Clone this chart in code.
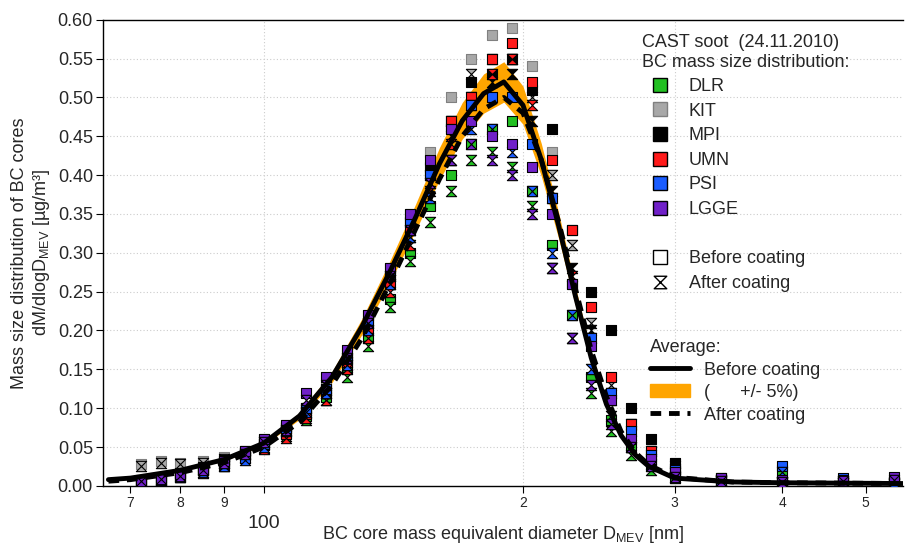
import numpy as np, pandas as pd, seaborn as sns
import matplotlib
matplotlib.use("Agg")
import matplotlib.pyplot as plt
from matplotlib.path import Path
from matplotlib.lines import Line2D
from matplotlib.patches import Patch

D = [72,76,80,85,90,95,100,106,112,118,125,132,140,148,156,165,174,184,194,205,216,228,240,253,267,282,300,340,400,470,540]
instruments = ["DLR","KIT","MPI","UMN","PSI","LGGE"]
colors = {"DLR":"#22c022","KIT":"#a8a8a8","MPI":"#000000","UMN":"#ff1a1a","PSI":"#1a5cff","LGGE":"#7020c8"}
before = {
"DLR":[.004,.008,.014,.020,.030,.040,.052,.068,.090,.115,.150,.19,.24,.30,.36,.40,.44,.46,.47,.38,.31,.22,.14,.085,.05,.025,.012,.006,.02,.005,.004],
"KIT":[.028,.032,.030,.032,.037,.045,.060,.078,.10,.13,.17,.22,.28,.35,.43,.50,.55,.58,.59,.54,.43,.33,.23,.14,.08,.045,.03,.01,.006,.006,.005],
"MPI":[.006,.010,.016,.024,.033,.045,.058,.076,.10,.125,.165,.21,.27,.34,.41,.47,.52,.53,.55,.51,.46,.33,.25,.20,.10,.06,.03,.01,.006,.005,.004],
"UMN":[.005,.009,.015,.020,.028,.040,.053,.067,.093,.12,.16,.20,.26,.33,.40,.47,.50,.55,.57,.52,.42,.33,.23,.14,.08,.045,.02,.008,.005,.004,.004],
"PSI":[.005,.008,.013,.020,.028,.036,.054,.075,.10,.125,.165,.21,.27,.34,.40,.46,.49,.50,.50,.44,.37,.26,.19,.12,.07,.04,.02,.008,.026,.01,.006],
"LGGE":[.007,.010,.015,.022,.032,.045,.060,.078,.12,.14,.175,.22,.28,.35,.42,.46,.47,.45,.44,.41,.35,.26,.18,.11,.06,.035,.018,.01,.007,.008,.012],
}
after = {
"DLR":[.003,.007,.012,.018,.027,.037,.049,.064,.085,.11,.14,.18,.23,.29,.34,.38,.42,.43,.41,.36,.28,.19,.12,.07,.04,.02,.010,.005,.004,.004,.003],
"KIT":[.026,.030,.028,.030,.034,.042,.056,.072,.095,.12,.16,.21,.27,.33,.40,.47,.53,.55,.55,.50,.40,.31,.21,.13,.07,.04,.025,.008,.005,.005,.004],
"MPI":[.005,.009,.014,.022,.030,.041,.054,.071,.094,.12,.155,.20,.26,.32,.39,.45,.50,.52,.53,.47,.38,.28,.20,.12,.08,.045,.022,.008,.005,.004,.004],
"UMN":[.004,.008,.013,.017,.025,.036,.048,.062,.087,.11,.15,.19,.25,.31,.38,.44,.49,.53,.55,.49,.37,.27,.19,.11,.065,.035,.016,.006,.004,.004,.003],
"PSI":[.004,.007,.011,.018,.026,.033,.050,.070,.095,.12,.155,.20,.26,.32,.37,.42,.46,.46,.43,.38,.30,.22,.15,.09,.05,.028,.012,.006,.018,.006,.005],
"LGGE":[.006,.009,.013,.020,.029,.041,.056,.072,.11,.13,.165,.21,.27,.33,.39,.42,.44,.42,.40,.35,.28,.19,.13,.08,.05,.025,.012,.006,.005,.006,.008],
}
Davg = [66,70,80,90,100,110,120,130,140,150,160,170,180,190,200,210,220,230,240,250,260,270,280,300,350,400,552]
avg_before = [.008,.010,.020,.034,.055,.09,.14,.205,.275,.345,.415,.47,.505,.52,.49,.42,.335,.245,.165,.105,.065,.04,.025,.010,.005,.004,.003]
avg_after = [.006,.008,.017,.030,.050,.082,.13,.19,.26,.33,.395,.45,.485,.50,.48,.42,.34,.255,.175,.115,.07,.043,.027,.011,.005,.004,.003]

sns.set_style("white")
plt.rcParams['font.family'] = ['Liberation Sans', 'DejaVu Sans']
plt.rcParams['mathtext.default'] = 'regular'
hour = Path([(-1,1),(1,1),(-1,-1),(1,-1),(-1,1)],[1,2,2,2,79])

fig = plt.figure(figsize=(9.09,5.49), dpi=100)
ax = fig.add_axes([0.113,0.115,0.88,0.849])
ab = np.array(avg_before)
ax.fill_between(Davg, ab*0.95, ab*1.05, color="#ffa500", lw=0, zorder=1)
for ins in instruments:
    ec = "#808080" if ins=="KIT" else "black"
    sns.scatterplot(x=D, y=before[ins], ax=ax, marker="s", s=55, color=colors[ins], edgecolor=ec, linewidth=0.8, zorder=3)
    sns.scatterplot(x=D, y=after[ins], ax=ax, marker=hour, s=55, color=colors[ins], edgecolor="black", linewidth=0.8, zorder=3)
sns.lineplot(x=Davg, y=avg_before, ax=ax, color="black", lw=3.5, zorder=4)
sns.lineplot(x=Davg, y=avg_after, ax=ax, color="black", lw=3.5, ls=(0,(2.2,1.6)), zorder=4)

ax.set_xscale("log")
ax.set_xlim(65, 552)
ax.set_ylim(0, 0.6)
ax.set_yticks(np.arange(0,0.601,0.05))
ax.set_yticklabels([f"{v:.2f}" for v in np.arange(0,0.601,0.05)], fontsize=13)
ax.xaxis.set_minor_locator(matplotlib.ticker.NullLocator())
xt = [70,80,90,100,200,300,400,500]
ax.set_xticks(xt)
ax.set_xticklabels(['7','8','9','\n100','2','3','4','5'], fontsize=10)
ax.get_xticklabels()[3].set_fontsize(14)
ax.tick_params(axis='both', direction='out', length=5, color='black', left=True, bottom=True, pad=2)
for v in np.arange(0.05,0.6,0.05):
    ax.axhline(v, color="#cccccc", ls=(0,(1,2)), lw=0.8, zorder=0)
for v in [100,200,300]:
    ax.axvline(v, color="#cccccc", ls=(0,(1,2)), lw=0.8, zorder=0)
for s in ["left","bottom","top"]:
    ax.spines[s].set_color("black"); ax.spines[s].set_linewidth(1)
ax.spines["right"].set_visible(False)
ax.set_ylabel("Mass size distribution of BC cores\ndM/dlogD$_{MEV}$ [µg/m³]", fontsize=13)
ax.set_xlabel("BC core mass equivalent diameter D$_{MEV}$ [nm]", fontsize=13, labelpad=-6)

h1 = [Line2D([],[],marker='s',ls='',ms=10,markerfacecolor=colors[i],markeredgecolor=("#808080" if i=="KIT" else "black")) for i in instruments]
h1 += [Line2D([],[],ls='',marker='')]
h1 += [Line2D([],[],marker='s',ls='',ms=10,markerfacecolor='white',markeredgecolor='black'),
       Line2D([],[],marker=hour,ls='',ms=9,markerfacecolor='white',markeredgecolor='black')]
l1 = ax.legend(h1, instruments+['','Before coating','After coating'], title="CAST soot  (24.11.2010)\nBC mass size distribution:",
               loc="upper left", bbox_to_anchor=(0.665,0.985), frameon=False, fontsize=13, title_fontsize=13,
               handletextpad=0.6, labelspacing=0.42, borderaxespad=0)
l1._legend_box.align = "left"
ax.add_artist(l1)
h2 = [Line2D([],[],color='black',lw=3.5), Patch(color='#ffa500'), Line2D([],[],color='black',lw=3.5,ls=(0,(2.2,1.6)))]
l2 = ax.legend(h2, ['Before coating','(      +/- 5%)','After coating'], title="Average:", loc="upper left",
               bbox_to_anchor=(0.675,0.33), frameon=False, fontsize=13, title_fontsize=13, labelspacing=0.3, handlelength=2.2, borderaxespad=0)
l2._legend_box.align = "left"
fig.savefig("out.png", dpi=100)
